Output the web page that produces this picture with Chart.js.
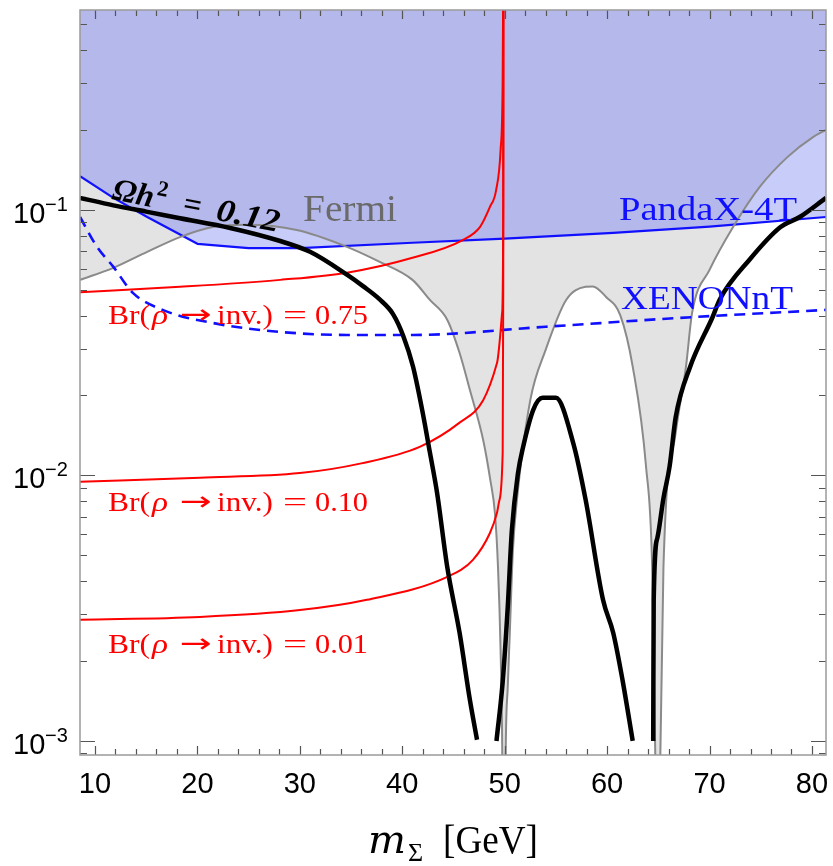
<!DOCTYPE html>
<html><head><meta charset="utf-8">
<script src="https://cdn.jsdelivr.net/npm/chart.js@4.4.1/dist/chart.umd.min.js"></script>
<style>html,body{margin:0;padding:0;background:#fff}#wrap{width:833px;height:866px}</style>
</head><body><div id="wrap"><canvas id="c" width="833" height="866"></canvas></div>
<script>
// ---- axis ranges and tick labels ----
const xScaleMin = 8.54, xScaleMax = 81.37;
const yScaleMin = 8.85e-4, yScaleMax = 0.566;
const xTickValues = [10, 20, 30, 40, 50, 60, 70, 80];
const xTickLabels = ['10', '20', '30', '40', '50', '60', '70', '80'];
const yTickValues = [0.1, 0.01, 0.001];
const yTickExponents = ['\u22121', '\u22122', '\u22123'];
const brValues = ['0.75', '0.10', '0.01'];

// ---- Fermi limit (gray) ----
const fermiX = [8.54, 11.8, 15.1, 18.3, 21.5, 24.8, 29.7, 34.6, 37.8, 41.0, 42.7, 44.4, 45.6, 46.6, 47.9, 48.6, 49.05, 49.35, 49.6, 49.76, 49.93, 50.1, 50.3, 50.5, 50.8, 51.2, 52.5, 54.0, 56.0, 57.9, 58.6, 59.9, 61.3, 62.5, 63.8, 64.4, 64.7, 64.95, 65.2, 65.5, 66.7, 67.7, 68.3, 70.0, 72.3, 74.9, 77.6, 80.1, 81.37];
const fermiY = [0.0545, 0.0605, 0.0695, 0.079, 0.0862, 0.0879, 0.084, 0.0726, 0.0637, 0.0545, 0.0458, 0.0385, 0.0289, 0.021, 0.0136, 0.0096, 0.0072, 0.0045, 0.0022, 0.00095, 0.0001, 0.0009, 0.0016, 0.00255, 0.0052, 0.0081, 0.0192, 0.0297, 0.0458, 0.0513, 0.0515, 0.047, 0.040, 0.0257, 0.0108, 0.0045, 0.0009, 0.0001, 0.0009, 0.0045, 0.0145, 0.0257, 0.041, 0.0594, 0.0862, 0.122, 0.158, 0.188, 0.2];

// ---- PandaX-4T (solid blue) ----
const pandaX = [8.54, 11.8, 15.1, 20.0, 25.0, 30.0, 41.0, 50.0, 60.6, 70.0, 81.37];
const pandaY = [0.134, 0.111, 0.094, 0.0745, 0.0718, 0.0718, 0.0752, 0.078, 0.0819, 0.0865, 0.094];

// ---- XENONnT (dashed blue) ----
const xenonX = [8.54, 10.2, 11.8, 13.7, 16.6, 21.5, 28.1, 34.6, 41.0, 54.0, 67.1, 81.37];
const xenonY = [0.094, 0.0726, 0.061, 0.0487, 0.042, 0.0375, 0.0347, 0.0338, 0.0338, 0.0363, 0.0392, 0.042];

// ---- Br(rho -> inv.) curves (red) ----
const br075X = [8.54, 18.3, 28.1, 34.6, 41.0, 45.9, 47.6, 48.56, 49.15, 49.6, 49.8, 49.88];
const br075Y = [0.049, 0.0513, 0.0545, 0.058, 0.066, 0.077, 0.0863, 0.1026, 0.118, 0.168, 0.3, 1.0];
const br010X = [8.54, 20.25, 30.0, 36.0, 41.7, 45.6, 47.9, 49.25, 49.75, 49.86, 49.88];
const br010Y = [0.00946, 0.0098, 0.0102, 0.0111, 0.0128, 0.0158, 0.0192, 0.0265, 0.041, 0.1, 1.0];
const br001X = [8.54, 20.25, 30.0, 36.55, 44.4, 46.9, 48.56, 49.25, 49.5, 49.8, 49.86, 49.88];
const br001Y = [0.00286, 0.00293, 0.00311, 0.0034, 0.00415, 0.00481, 0.00607, 0.00723, 0.0081, 0.012, 0.05, 1.0];

// ---- relic density Omega h^2 = 0.12 (black), three branches ----
const relicAX = [8.54, 11.8, 15.0, 18.3, 23.2, 28.0, 31.0, 34.6, 36.2, 37.8, 39.1, 40.1, 41.05, 42.0, 42.7, 43.4, 44.4, 45.6, 46.6, 47.3];
const relicAY = [0.111, 0.104, 0.0985, 0.093, 0.0855, 0.0765, 0.0695, 0.057, 0.0515, 0.046, 0.0405, 0.0335, 0.0257, 0.0172, 0.0122, 0.0086, 0.0045, 0.00255, 0.00143, 0.00101];
const relicBX = [49.2, 49.8, 50.3, 50.7, 51.3, 51.8, 52.8, 53.7, 55.0, 56.7, 57.9, 59.6, 60.6, 61.5, 62.5];
const relicBY = [0.001, 0.00166, 0.0032, 0.0062, 0.0102, 0.0128, 0.0177, 0.0196, 0.0196, 0.0132, 0.0081, 0.0034, 0.00255, 0.0017, 0.001];
const relicCX = [64.5, 64.55, 64.9, 65.5, 66.1, 66.7, 68.1, 70.3, 71.0, 73.9, 76.9, 78.8, 81.37];
const relicCY = [0.001, 0.0034, 0.0058, 0.0082, 0.0108, 0.0166, 0.0256, 0.0395, 0.046, 0.0649, 0.086, 0.094, 0.111];

const pts = (xs, ys) => xs.map((v, i) => ({x: v, y: ys[i]}));

const RED = '#ff0000', BLUE = '#1010ff';

const base = {pointRadius: 0, pointHoverRadius: 0, fill: false};

const datasets = [
  Object.assign({}, base, {label: 'Fermi', data: pts(fermiX, fermiY), borderColor: '#8a8a8a', borderWidth: 2,
    cubicInterpolationMode: 'monotone', order: 4,
    fill: {target: 1, above: '#c8ccf9', below: '#e3e3e3'}}),
  Object.assign({}, base, {label: 'PandaX-4T', data: pts(pandaX, pandaY), borderColor: BLUE, borderWidth: 2.2,
    tension: 0, order: 5, fill: 'end', backgroundColor: '#b5b8ea'}),
  Object.assign({}, base, {label: 'XENONnT', data: pts(xenonX, xenonY), borderColor: BLUE, borderWidth: 2.6,
    borderDash: [11, 7], cubicInterpolationMode: 'monotone', order: 3}),
  Object.assign({}, base, {label: 'Br 0.75', data: pts(br075X, br075Y), borderColor: RED, borderWidth: 2,
    cubicInterpolationMode: 'monotone', order: 2}),
  Object.assign({}, base, {label: 'Br 0.10', data: pts(br010X, br010Y), borderColor: RED, borderWidth: 2,
    cubicInterpolationMode: 'monotone', order: 2}),
  Object.assign({}, base, {label: 'Br 0.01', data: pts(br001X, br001Y), borderColor: RED, borderWidth: 2,
    cubicInterpolationMode: 'monotone', order: 2}),
  Object.assign({}, base, {label: 'relic A', data: pts(relicAX, relicAY), borderColor: '#000', borderWidth: 4.5,
    cubicInterpolationMode: 'monotone', order: 0}),
  Object.assign({}, base, {label: 'relic B', data: pts(relicBX, relicBY), borderColor: '#000', borderWidth: 4.5,
    cubicInterpolationMode: 'monotone', order: 0}),
  Object.assign({}, base, {label: 'relic C', data: pts(relicCX, relicCY), borderColor: '#000', borderWidth: 4.5,
    cubicInterpolationMode: 'monotone', order: 0})
];

function fitText(ctx, s, x, y, font, color, width) {
  ctx.save();
  ctx.font = font; ctx.fillStyle = color; ctx.textBaseline = 'alphabetic'; ctx.textAlign = 'left';
  const m = ctx.measureText(s).width;
  ctx.translate(x, y);
  if (width) ctx.scale(width / m, 1);
  ctx.fillText(s, 0, 0);
  ctx.restore();
  return m;
}

function brLabel(ctx, value, x, y) {
  const f = '28px "Liberation Serif"';
  fitText(ctx, 'Br(', x, y, f, RED, 42);
  fitText(ctx, '\u03C1', x + 44, y, 'italic 28px "Liberation Serif"', RED, 16);
  fitText(ctx, '\u2192', x + 72, y - 1, '26px "DejaVu Sans"', RED, 32);
  fitText(ctx, 'inv.)', x + 109, y, f, RED, 56);
  fitText(ctx, '=', x + 175, y, f, RED, 24);
  fitText(ctx, value, x + 207, y, f, RED, 53);
}

const decor = {
  id: 'decor',
  afterDatasetsDraw(chart) {
    const {ctx, chartArea: a, scales: {x, y}} = chart;
    ctx.save();
    // ticks
    ctx.strokeStyle = '#555'; ctx.lineWidth = 1.2;
    for (let v = 10; v <= 80; v += 2) {
      const px = Math.round(x.getPixelForValue(v)) + 0.5;
      const L = (v % 10 === 0) ? 9 : 6;
      ctx.beginPath();
      ctx.moveTo(px, a.bottom); ctx.lineTo(px, a.bottom - L);
      ctx.moveTo(px, a.top); ctx.lineTo(px, a.top + L);
      ctx.stroke();
    }
    for (let e = -4; e <= 0; e++) {
      for (let m = 1; m <= 9; m++) {
        const v = m * Math.pow(10, e);
        if (v < yScaleMin || v > yScaleMax) continue;
        const py = Math.round(y.getPixelForValue(v)) + 0.5;
        const L = (m === 1) ? 15 : 7;
        ctx.beginPath();
        ctx.moveTo(a.left, py); ctx.lineTo(a.left + L, py);
        ctx.moveTo(a.right, py); ctx.lineTo(a.right - L, py);
        ctx.stroke();
      }
    }
    // frame
    ctx.strokeStyle = '#9a9a9a'; ctx.lineWidth = 1.5;
    ctx.strokeRect(a.left, a.top, a.right - a.left, a.bottom - a.top);

    // x tick labels
    ctx.fillStyle = '#000'; ctx.font = '29px "Liberation Sans"'; ctx.textAlign = 'center'; ctx.textBaseline = 'alphabetic';
    xTickValues.forEach((v, i) => ctx.fillText(xTickLabels[i], x.getPixelForValue(v), a.bottom + 38));
    // y tick labels
    ctx.textAlign = 'left';
    yTickValues.forEach((v, i) => {
      const py = y.getPixelForValue(v);
      ctx.font = '29px "Liberation Sans"';
      ctx.fillText('10', 13, py + 13);
      ctx.font = '20px "Liberation Sans"';
      ctx.fillText(yTickExponents[i], 45, py + 1);
    });

    // relic density label, rotated along the curve
    ctx.save();
    ctx.translate(111, 199);
    ctx.rotate(11.2 * Math.PI / 180);
    ctx.fillStyle = '#000';
    ctx.font = 'bold italic 32px "Liberation Serif"';
    ctx.fillText('\u03A9h', 0, 0);
    const wOh = ctx.measureText('\u03A9h').width;
    ctx.font = 'bold 22px "Liberation Serif"';
    ctx.fillText('2', wOh + 2, -13);
    ctx.font = 'bold 32px "Liberation Serif"';
    ctx.fillText('=', 72, 0);
    fitText(ctx, '0.12', 106, 0, 'bold italic 32px "Liberation Serif"', '#000', 64);
    ctx.restore();

    fitText(ctx, 'Fermi', 303, 221, '38px "Liberation Serif"', '#6a6a6a', 94);
    fitText(ctx, 'PandaX-4T', 619, 220, '34px "Liberation Serif"', BLUE, 178);
    fitText(ctx, 'XENONnT', 621, 309, '34px "Liberation Serif"', BLUE, 172);
    brLabel(ctx, brValues[0], 108, 324);
    brLabel(ctx, brValues[1], 108, 511);
    brLabel(ctx, brValues[2], 108, 653);

    // axis title
    const wm = fitText(ctx, 'm', 368, 853, 'italic 40px "DejaVu Serif"', '#000', 0);
    fitText(ctx, '\u03A3', 368 + wm + 2, 861, '26px "Liberation Serif"', '#000', 0);
    fitText(ctx, '[GeV]', 443, 853, '40px "Liberation Serif"', '#000', 95);
    ctx.restore();
  }
};

new Chart(document.getElementById('c'), {
  type: 'line',
  data: {datasets},
  options: {
    responsive: false, animation: false, devicePixelRatio: 1,
    layout: {padding: {left: 80, right: 7, top: 10, bottom: 111}},
    scales: {
      x: {type: 'linear', min: xScaleMin, max: xScaleMax, display: false},
      y: {type: 'logarithmic', min: yScaleMin, max: yScaleMax, display: false}
    },
    plugins: {legend: {display: false}, tooltip: {enabled: false}, filler: {drawTime: 'beforeDatasetsDraw', propagate: false}},
    elements: {line: {borderJoinStyle: 'round'}}
  },
  plugins: [decor]
});
</script></body></html>
